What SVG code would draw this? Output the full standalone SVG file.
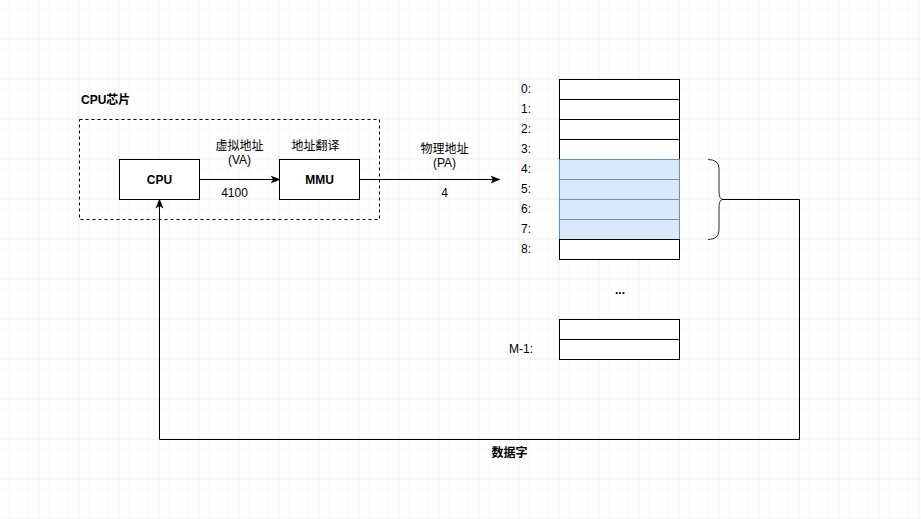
<svg xmlns="http://www.w3.org/2000/svg" width="921" height="519" viewBox="0 0 921 519">
  <defs>
    <pattern id="minor" width="10" height="10" patternUnits="userSpaceOnUse" x="-0.5" y="-0.5">
      <path d="M10 0V10M0 10H10" fill="none" stroke="#f2f2f2" stroke-width="1"/>
    </pattern>
    <pattern id="major" width="40" height="40" patternUnits="userSpaceOnUse" x="-0.5" y="-0.5">
      <rect width="40" height="40" fill="url(#minor)"/>
      <path d="M40 0V40M0 40H40" fill="none" stroke="#e2e2e2" stroke-width="1"/>
    </pattern>
    <marker id="arrow" viewBox="0 0 10 10" refX="9" refY="5" markerWidth="10" markerHeight="10" markerUnits="userSpaceOnUse" orient="auto">
      <path d="M0,1 L10,5 L0,9 L2.5,5 Z" fill="#000"/>
    </marker>
    <style>
      text { font-family: "Liberation Sans", "Noto Sans CJK SC", Arial, sans-serif; font-size: 12px; fill: #000; }
      .b { font-weight: bold; }
      .box { fill: #fff; stroke: #000; stroke-width: 1; }
      .cell { fill: #fff; stroke: #000; stroke-width: 1; }
      .hl { fill: #dae8fc; stroke: #6c8ebf; stroke-width: 1; }
      .edge { fill: none; stroke: #000; stroke-width: 1; }
      .mid { text-anchor: middle; }
    </style>
  </defs>

  <!-- background grid -->
  <rect width="921" height="519" fill="#fff"/>
  <rect width="921" height="519" fill="url(#major)"/>

  <!-- chip boundary -->
  <g id="chip">
    <rect x="79.5" y="119.5" width="300" height="100" fill="none" stroke="#000" stroke-dasharray="3 3"/>
    <text x="81" y="104" class="b">CPU芯片</text>
  </g>

  <g id="cpu">
    <rect class="box" x="119.5" y="159.5" width="80" height="40"/>
    <text x="159.5" y="184" class="b mid">CPU</text>
  </g>

  <g id="mmu">
    <rect class="box" x="279.5" y="159.5" width="80" height="40"/>
    <text x="319.5" y="184" class="b mid">MMU</text>
  </g>

  <!-- physical memory cells -->
  <g id="memory">
    <rect class="cell" x="559.5" y="79.5" width="120" height="20"/>
    <rect class="cell" x="559.5" y="99.5" width="120" height="20"/>
    <rect class="cell" x="559.5" y="119.5" width="120" height="20"/>
    <rect class="cell" x="559.5" y="139.5" width="120" height="20"/>
    <rect class="hl" x="559.5" y="159.5" width="120" height="20"/>
    <rect class="hl" x="559.5" y="179.5" width="120" height="20"/>
    <rect class="hl" x="559.5" y="199.5" width="120" height="20"/>
    <rect class="hl" x="559.5" y="219.5" width="120" height="20"/>
    <rect class="cell" x="559.5" y="239.5" width="120" height="20"/>
    <rect class="cell" x="559.5" y="319.5" width="120" height="20"/>
    <rect class="cell" x="559.5" y="339.5" width="120" height="20"/>
    <text x="521" y="93">0:</text>
    <text x="521" y="113">1:</text>
    <text x="521" y="133">2:</text>
    <text x="521" y="153">3:</text>
    <text x="521" y="173">4:</text>
    <text x="521" y="193">5:</text>
    <text x="521" y="213">6:</text>
    <text x="521" y="233">7:</text>
    <text x="521" y="253">8:</text>
    <text x="620" y="294" class="b mid">...</text>
    <text x="509" y="353">M-1:</text>
  </g>

  <!-- brace grouping the data word -->
  <g id="brace">
    <path d="M708,159.5 Q719,159.5 719,169 L719,191 Q719,199.5 723,199.5 Q719,199.5 719,208 L719,230 Q719,239.5 708,239.5" fill="none" stroke="#333" stroke-width="1"/>
  </g>

  <!-- connectors -->
  <g id="edges">
    <path class="edge" d="M199.5,179.5 H279.5" marker-end="url(#arrow)"/>
    <path class="edge" d="M359.5,179.5 H499.5" marker-end="url(#arrow)"/>
    <path class="edge" d="M722,199.5 H799.5 V439.5 H159.5 V199.5" marker-end="url(#arrow)"/>
  </g>

  <!-- connector labels -->
  <g id="labels">
    <text x="239.5" y="150" class="mid">虚拟地址</text>
    <text x="239.5" y="164" class="mid">(VA)</text>
    <text x="234.5" y="197" class="mid">4100</text>
    <text x="315.5" y="150" class="mid">地址翻译</text>
    <text x="444.5" y="153" class="mid">物理地址</text>
    <text x="444.5" y="167" class="mid">(PA)</text>
    <text x="444.5" y="197" class="mid">4</text>
    <text x="509.5" y="457" class="b mid">数据字</text>
  </g>
</svg>
